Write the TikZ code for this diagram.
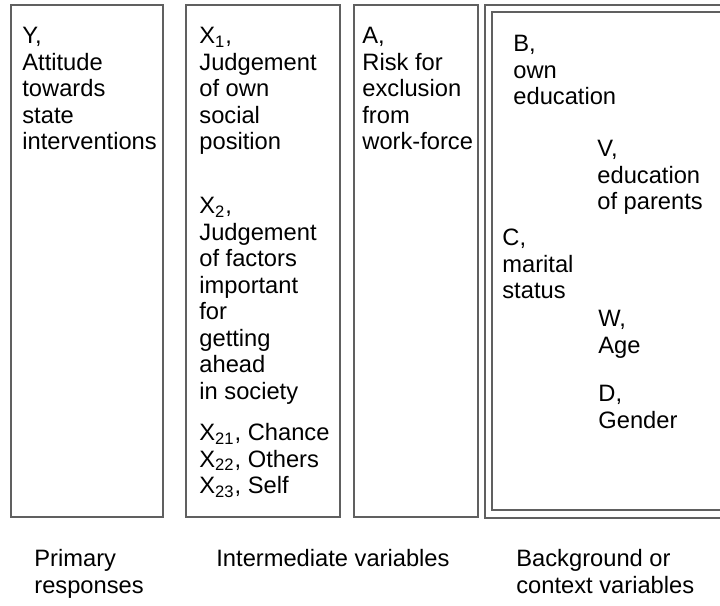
\documentclass[tikz,border=0pt]{standalone}
\usepackage{fontspec}
\setmainfont{Liberation Sans}
\usetikzlibrary{positioning}
\definecolor{boxline}{RGB}{96,96,96}
\tikzset{
  panel/.style={draw=boxline, line width=0.6pt},
  vartext/.style={anchor=north west, align=left, inner sep=0pt,
    font=\fontsize{11.85}{13.25}\selectfont},
}

\begin{document}
\begin{tikzpicture}[x=0.5pt, y=-0.5pt]
  \useasboundingbox (0,0) rectangle (720,606);
  \clip (0,0) rectangle (720,606);

  % Columns
  \draw[panel] (11,5) rectangle (163,517);
  \draw[panel] (186,5) rectangle (340,517);
  \draw[panel] (354,5) rectangle (478,517);
  % Background column, double frame running off the right edge
  \draw[panel] (485,5) rectangle (740,518);
  \draw[panel] (492,12) rectangle (733,510);

  % Primary responses
  \node[vartext] (y) at (22,27) {Y,\\Attitude\\towards\\state\\interventions};

  % Intermediate variables
  \node[vartext] (x1) at (199,27) {X\textsubscript{1},\\Judgement\\of own\\social\\position};
  \node[vartext] (x2) at (199,197) {X\textsubscript{2},\\Judgement\\of factors\\important\\for\\getting\\ahead\\in society};
  \node[vartext] (x2parts) at (199,423) {X\textsubscript{21}, Chance\\X\textsubscript{22}, Others\\X\textsubscript{23}, Self};
  \node[vartext] (a) at (362,27) {A,\\Risk for\\exclusion\\from\\work-force};

  % Background or context variables
  \node[vartext] (b) at (513,35) {B,\\own\\education};
  \node[vartext] (v) at (597,140) {V,\\education\\of parents};
  \node[vartext] (c) at (502,229) {C,\\marital\\status};
  \node[vartext] (w) at (598,310) {W,\\Age};
  \node[vartext] (d) at (598,385) {D,\\Gender};

  % Column captions
  \node[vartext] (primary) at (34,549) {Primary\\responses};
  \node[vartext] (intermediate) at (216,549) {Intermediate variables};
  \node[vartext] (background) at (516,549) {Background or\\context variables};
\end{tikzpicture}
\end{document}
